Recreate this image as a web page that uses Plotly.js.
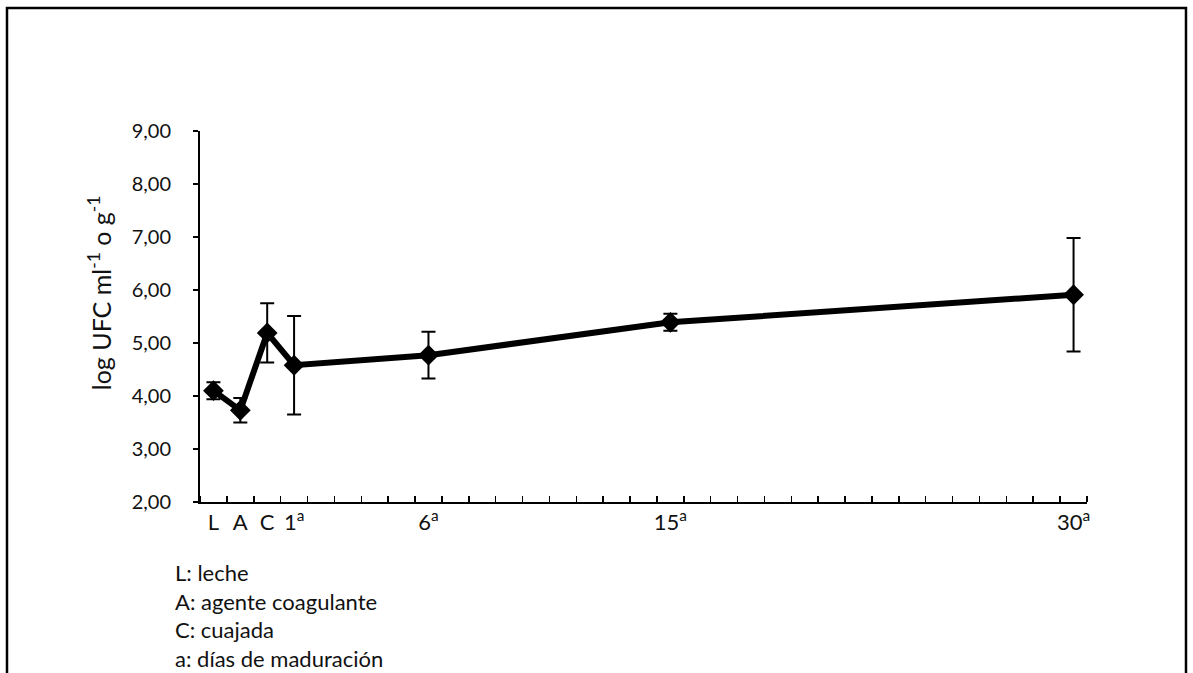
<!DOCTYPE html>
<html>
<head>
<meta charset="utf-8">
<script src="https://cdn.plot.ly/plotly-3.0.1.min.js"></script>
<style>
  html, body { margin: 0; padding: 0; background: #ffffff; }
  #chart { width: 1193px; height: 673px; }
</style>
</head>
<body>
<div id="chart"></div>
<script>
// Axis slots: L, A, C, then maturation days 1..30 (one slot per day)
var slotIds = ['L', 'A', 'C',
  'd1','d2','d3','d4','d5','d6','d7','d8','d9','d10',
  'd11','d12','d13','d14','d15','d16','d17','d18','d19','d20',
  'd21','d22','d23','d24','d25','d26','d27','d28','d29','d30'];
var tickSlots  = ['L', 'A', 'C', 'd1', 'd6', 'd15', 'd30'];
var tickLabels = ['L', 'A', 'C', '1<sup>a</sup>', '6<sup>a</sup>', '15<sup>a</sup>', '30<sup>a</sup>'];

// Measured points
var categories = ['L', 'A', 'C', 'd1', 'd6', 'd15', 'd30'];
var logUFC     = [4.10, 3.73, 5.19, 4.58, 4.77, 5.39, 5.91];
var errSD      = [0.16, 0.23, 0.56, 0.93, 0.44, 0.16, 1.07];

var legendLines = ['L: leche', 'A: agente coagulante', 'C: cuajada', 'a: días de maduración'];

var FONT = 'Lato, "Open Sans", sans-serif';
var slotPos = function (id) { return slotIds.indexOf(id); };

var trace = {
  x: categories.map(slotPos),
  y: logUFC,
  text: categories,
  type: 'scatter',
  mode: 'lines+markers',
  line: { color: '#000000', width: 6 },
  marker: { symbol: 'diamond', size: 16, color: '#000000' },
  error_y: { type: 'data', array: errSD, visible: true, color: '#000000', thickness: 2, width: 7 },
  showlegend: false,
  hoverinfo: 'text+y'
};
// invisible carrier so the label axis (y2) is drawn
var labelCarrier = {
  x: categories.map(slotPos), y: logUFC, yaxis: 'y2',
  type: 'scatter', mode: 'none', showlegend: false, hoverinfo: 'skip'
};

var annotations = [{
  text: legendLines.join('<br>'),
  xref: 'paper', yref: 'paper', x: -0.031, y: -0.148,
  xanchor: 'left', yanchor: 'top', align: 'left', showarrow: false,
  font: { family: FONT, size: 22, color: '#111111' }
}, {
  text: 'log UFC ml<sup>-1</sup> o g<sup>-1</sup>',
  xref: 'paper', yref: 'paper', x: -0.113, y: 0.565,
  xanchor: 'center', yanchor: 'middle', textangle: -90, showarrow: false,
  font: { family: FONT, size: 25, color: '#111111' }
}];

var layout = {
  width: 1193, height: 673,
  margin: { l: 200, r: 106, t: 131, b: 171, pad: 0 },
  paper_bgcolor: '#ffffff', plot_bgcolor: '#ffffff',
  separators: ',.',
  font: { family: FONT, color: '#111111', size: 19 },
  xaxis: {
    type: 'linear',
    tickmode: 'array', tickvals: tickSlots.map(slotPos), ticktext: tickLabels,
    tickangle: 0,
    range: [-0.5, slotIds.length - 0.5],
    showline: true, linecolor: '#000000', linewidth: 2,
    ticks: '', showgrid: false, zeroline: false,
    minor: { tickmode: 'linear', tick0: -0.5, dtick: 1, ticks: 'inside', ticklen: 6,
             tickwidth: 1.5, tickcolor: '#000000', showgrid: false },
    tickfont: { family: FONT, size: 22, color: '#111111' }
  },
  // visible axis line and short tick marks
  yaxis: {
    range: [2, 9], dtick: 1, tick0: 2,
    showline: true, linecolor: '#000000', linewidth: 2,
    ticks: 'outside', ticklen: 5, tickwidth: 1.5, tickcolor: '#000000',
    showticklabels: false,
    showgrid: false, zeroline: false
  },
  // tick labels, set further away from the axis
  yaxis2: {
    overlaying: 'y', matches: 'y', side: 'left', anchor: 'x',
    range: [2, 9], dtick: 1, tick0: 2, tickformat: '.2f',
    showline: false,
    ticks: 'outside', ticklen: 24, tickwidth: 1, tickcolor: 'rgba(0,0,0,0)',
    showgrid: false, zeroline: false,
    tickfont: { family: FONT, size: 20, color: '#111111' }
  },
  shapes: [{
    type: 'rect', xref: 'paper', yref: 'paper',
    x0: -0.2176, x1: 1.1116, y0: -0.5, y1: 1.3315,
    line: { color: '#000000', width: 2.5 }, fillcolor: 'rgba(0,0,0,0)', layer: 'below'
  }],
  annotations: annotations
};

Plotly.newPlot('chart', [trace, labelCarrier], layout, { displayModeBar: false, staticPlot: true });
</script>
</body>
</html>
